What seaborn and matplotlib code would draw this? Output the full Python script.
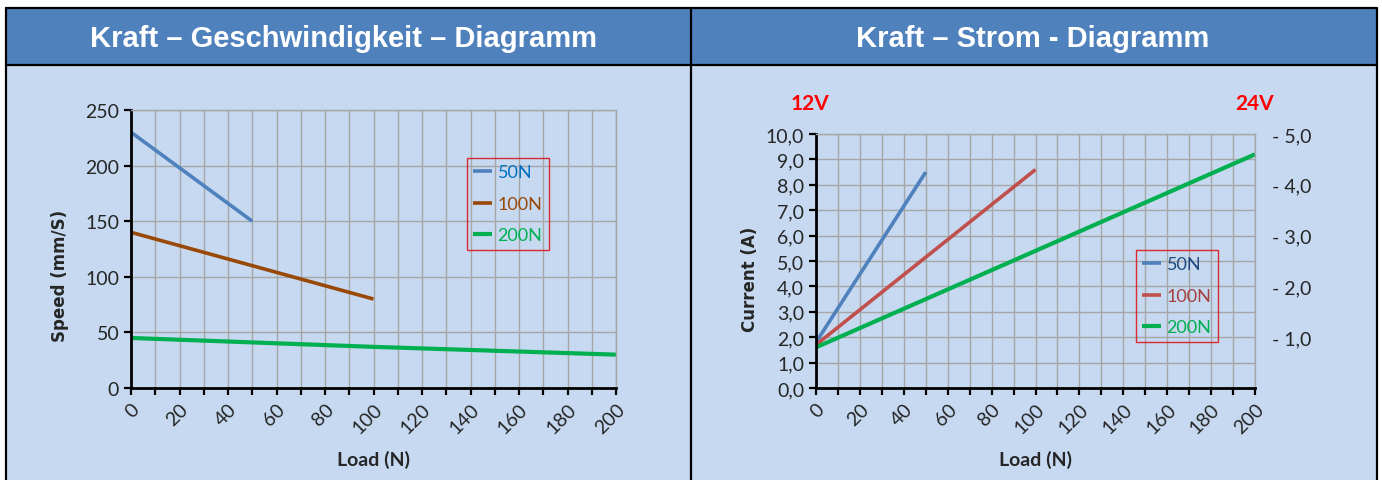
import numpy as np
import pandas as pd
import matplotlib
matplotlib.use("Agg")
import matplotlib.pyplot as plt
import seaborn as sns
from matplotlib.patches import Rectangle
from matplotlib.lines import Line2D
from matplotlib.ticker import MultipleLocator, FuncFormatter

# ── Data ────────────────────────────────────────────────────
series = ["50N", "100N", "200N"]

# Kraft - Geschwindigkeit
speed_load_50 = [0, 50]
speed_50 = [230, 150]
speed_load_100 = [0, 50, 100]
speed_100 = [140, 110, 80]
speed_load_200 = [0, 100, 200]
speed_200 = [45, 37, 30]

# Kraft - Strom
cur_load_50 = [0, 50]
cur_50 = [1.8, 8.5]
cur_load_100 = [0, 100]
cur_100 = [1.7, 8.6]
cur_load_200 = [0, 100, 200]
cur_200 = [1.6, 5.4, 9.2]

right_ticks = [1, 2, 3, 4, 5]

titles = ["Kraft \u2013 Geschwindigkeit \u2013 Diagramm", "Kraft \u2013 Strom - Diagramm"]

speed_df = pd.concat([
    pd.DataFrame({"Load": speed_load_50, "val": speed_50, "s": "50N"}),
    pd.DataFrame({"Load": speed_load_100, "val": speed_100, "s": "100N"}),
    pd.DataFrame({"Load": speed_load_200, "val": speed_200, "s": "200N"}),
])
cur_df = pd.concat([
    pd.DataFrame({"Load": cur_load_50, "val": cur_50, "s": "50N"}),
    pd.DataFrame({"Load": cur_load_100, "val": cur_100, "s": "100N"}),
    pd.DataFrame({"Load": cur_load_200, "val": cur_200, "s": "200N"}),
])

# ── Styles ──────────────────────────────────────────────────
HEAD = "#4F81BD"
BG = "#C6D9F1"
GRID = "#A6A6A6"
pal_speed = {"50N": "#4F81BD", "100N": "#984807", "200N": "#00B050"}
txt_speed = {"50N": "#0070C0", "100N": "#984807", "200N": "#00B050"}
pal_cur = {"50N": "#4F81BD", "100N": "#C0504D", "200N": "#00B050"}
txt_cur = {"50N": "#1F497D", "100N": "#A5403D", "200N": "#00B050"}
widths = {"50N": 2.6, "100N": 2.6, "200N": 3.0}

sns.set_style("white")
plt.rcParams["font.family"] = ["Lato", "DejaVu Sans"]

fig = plt.figure(figsize=(13.82, 4.81), dpi=100)
fig.patch.set_facecolor("white")
W, H = 1382.0, 481.0

def fx(x):
    return x / W

def fy(y):
    return 1 - y / H

# panel background, header bars and borders
fig.add_artist(Rectangle((fx(6), 0), fx(1372), fy(9), facecolor=BG, edgecolor="none", zorder=0))
fig.add_artist(Rectangle((fx(6), fy(66)), fx(1372), fy(9) - fy(66), facecolor=HEAD, edgecolor="none", zorder=0))
for x in [6, 690.5, 1377]:
    fig.add_artist(Line2D([fx(x), fx(x)], [0, fy(9)], color="black", lw=1.6, zorder=1))
for y in [9, 66]:
    fig.add_artist(Line2D([fx(6), fx(1377)], [fy(y), fy(y)], color="black", lw=1.6, zorder=1))

fig.text(fx(344), fy(39), titles[0], ha="center", va="center", color="white",
         fontsize=21, fontweight="bold", family=["Liberation Sans", "DejaVu Sans"])
fig.text(fx(1033), fy(39), titles[1], ha="center", va="center", color="white",
         fontsize=21, fontweight="bold", family=["Liberation Sans", "DejaVu Sans"])

def style_axes(ax):
    ax.set_facecolor("none")
    ax.set_xlim(0, 200)
    ax.xaxis.set_major_locator(MultipleLocator(20))
    ax.xaxis.set_minor_locator(MultipleLocator(10))
    ax.grid(True, which="both", axis="x", color=GRID, lw=1)
    ax.grid(True, which="major", axis="y", color=GRID, lw=1)
    for side in ["top", "right"]:
        ax.spines[side].set_color(GRID)
        ax.spines[side].set_linewidth(1)
    for side in ["left", "bottom"]:
        ax.spines[side].set_color("black")
        ax.spines[side].set_linewidth(2)
    ax.tick_params(axis="both", which="both", direction="out", length=5, width=1.6,
                   color="black", labelsize=14, bottom=True, left=True)
    ax.tick_params(axis="x", which="minor", labelbottom=False)
    for lab in ax.get_xticklabels():
        lab.set_rotation(45)
        lab.set_ha("right")
        lab.set_rotation_mode("anchor")
    ax.set_xlabel("Load (N)", fontsize=14, fontweight="bold", labelpad=10)

def add_legend(ax, txt, anchor):
    leg = ax.legend(loc="upper left", bbox_to_anchor=anchor, fontsize=13, frameon=True,
                    handlelength=1.05, handletextpad=0.3, labelspacing=0.86,
                    borderpad=0.35, borderaxespad=0, fancybox=False)
    leg.get_frame().set_facecolor("none")
    leg.get_frame().set_edgecolor("#E00000")
    leg.get_frame().set_linewidth(1)
    for t in leg.get_texts():
        t.set_color(txt[t.get_text()])

# ── Left: speed ─────────────────────────────────────────────
ax1 = fig.add_axes([fx(131), fy(389), fx(616) - fx(131), fy(111) - fy(389)])
for s in series:
    sns.lineplot(data=speed_df[speed_df["s"] == s], x="Load", y="val", color=pal_speed[s],
                 lw=widths[s], label=s, ax=ax1, solid_capstyle="butt")
ax1.set_ylim(0, 250)
ax1.yaxis.set_major_locator(MultipleLocator(50))
style_axes(ax1)
ax1.set_ylabel("Speed (mm/S)", fontsize=12, fontweight="bold", family="DejaVu Sans")
ax1.yaxis.set_label_coords(-0.128, 0.406)
add_legend(ax1, txt_speed, ((467 - 131) / 485, (389 - 159) / 278))

# ── Right: current ──────────────────────────────────────────
ax2 = fig.add_axes([fx(816), fy(389), fx(1255) - fx(816), fy(135) - fy(389)])
for s in series:
    sns.lineplot(data=cur_df[cur_df["s"] == s], x="Load", y="val", color=pal_cur[s],
                 lw=widths[s], label=s, ax=ax2, solid_capstyle="butt")
ax2.set_ylim(0, 10)
ax2.yaxis.set_major_locator(MultipleLocator(1))
ax2.yaxis.set_major_formatter(FuncFormatter(lambda v, p: f"{v:.1f}".replace(".", ",")))
style_axes(ax2)
ax2.set_ylabel("Current (A)", fontsize=12, fontweight="bold", family="DejaVu Sans")
ax2.yaxis.set_label_coords(-0.130, 0.433)
add_legend(ax2, txt_cur, ((1136 - 816) / 439, (389 - 251) / 254))

ax3 = ax2.twinx()
ax3.set_ylim(0, 5)
ax3.set_yticks(right_ticks)
ax3.set_yticklabels([f"- {v:.1f}".replace(".", ",") for v in right_ticks])
ax3.tick_params(axis="y", length=0, pad=12, labelsize=14)
for side in ax3.spines:
    ax3.spines[side].set_visible(False)
ax3.grid(False)

fig.text(fx(810), fy(104), "12V", ha="center", va="center", color="#FF0000",
         fontsize=15, fontweight="bold")
fig.text(fx(1255), fy(104), "24V", ha="center", va="center", color="#FF0000",
         fontsize=15, fontweight="bold")

fig.savefig("out.png", dpi=100)
